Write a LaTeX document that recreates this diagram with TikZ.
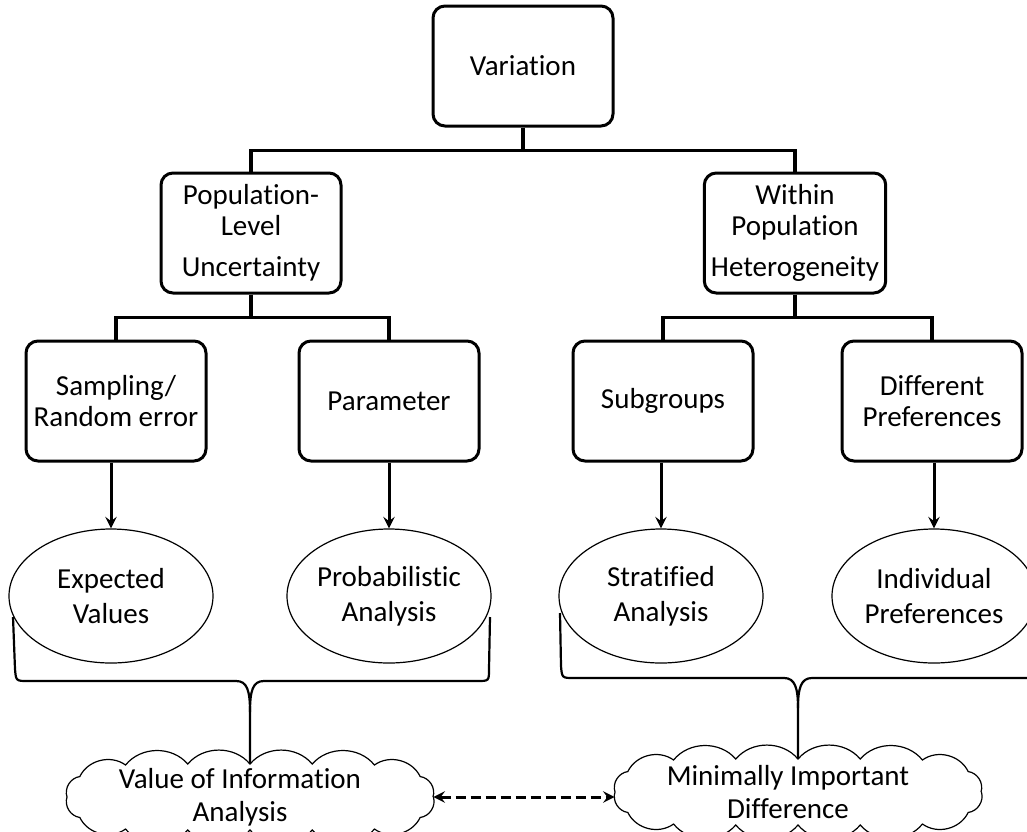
\documentclass[tikz,border=0pt]{standalone}
\usepackage{fontspec}
\setmainfont{Carlito}[Ligatures=NoCommon]
\usepackage{tikz}
\usetikzlibrary{shapes.geometric, arrows, calc}
\tikzstyle{box} = [rectangle, rounded corners=6pt, minimum width=90pt, minimum height=60pt, text centered, align=center, draw=black, line width=1.5pt, fill=white]
\tikzstyle{oval} = [ellipse, minimum width=102pt, minimum height=67pt, inner sep=0pt, text centered, align=center, draw=black, line width=0.6pt, fill=white]
\tikzstyle{blob} = [ellipse, minimum width=183pt, minimum height=33pt, inner sep=0pt]
\tikzstyle{puff} = [draw=black, line width=0.6pt]
\tikzstyle{line} = [line width=1.7pt]
\tikzstyle{brace} = [line width=1.1pt]

\begin{document}
\begin{tikzpicture}[x=0.5pt, y=-0.5pt, font=\fontsize{14.5}{15.5}\selectfont]
\useasboundingbox (0,0) rectangle (1027,831);

\node at (523,66) (var) [box] {Variation};

\node at (251,233) (pop) [box] {Population-\\Level\\[5pt]Uncertainty};
\node at (795,233) (win) [box] {Within\\Population\\[5pt]Heterogeneity};
\draw[line] (var.south) -- ++(0,23) -| (pop.north);
\draw[line] (var.south) -- ++(0,23) -| (win.north);

\node at (116,401) (samp) [box] {Sampling/\\Random error};
\node at (389,401) (par) [box] {Parameter};
\draw[line] (pop.south) -- ++(0,23) -| (samp.north);
\draw[line] (pop.south) -- ++(0,23) -| (par.north);

\node at (663,401) (sub) [box] {Subgroups};
\node at (932,401) (dif) [box] {Different\\Preferences};
\draw[line] (win.south) -- ++(0,23) -| (sub.north);
\draw[line] (win.south) -- ++(0,23) -| (dif.north);

\node at (111,596) (exp) [oval] {Expected\\[2pt]Values};
\node at (389,596) (prob) [oval] {Probabilistic\\[2pt]Analysis};
\node at (661,596) (strat) [oval] {Stratified\\[2pt]Analysis};
\node at (934,596) (ind) [oval] {Individual\\[2pt]Preferences};
\draw[->,>=stealth,line width=1.5pt] (exp.north |- samp.south) -- (exp.north);
\draw[->,>=stealth,line width=1.5pt] (prob.north |- par.south) -- (prob.north);
\draw[->,>=stealth,line width=1.5pt] (strat.north |- sub.south) -- (strat.north);
\draw[->,>=stealth,line width=1.5pt] (ind.north |- dif.south) -- (ind.north);

\node at (250,797) (voi) [blob, label={[align=center, xshift=-5pt]center:Value of Information\\[1pt]Analysis}] {};
\node at (798,792) (mid) [blob, label={[align=center, xshift=-5pt]center:Minimally Important\\[1pt]Difference}] {};
\foreach \c in {voi, mid}
  \draw[puff] (\c.east) \foreach \u/\v in {0.93/0.62, 0.68/0.97, 0.34/1, 0/1, -0.34/1, -0.68/0.97, -0.93/0.62, -1/0,
      -0.93/-0.62, -0.68/-0.97, -0.34/-1, 0/-1, 0.34/-1, 0.68/-0.97, 0.93/-0.62, 1/0}
    { to[bend left=50] ($(\c.center)+({183*\u},{33*\v})$) };
\draw[<->,>=stealth,dash pattern=on 5pt off 2.5pt,line width=1.5pt] (voi.east) -- (voi.east -| mid.west);

\draw[brace] (13,617) -- (15,669) .. controls (16,681) .. (28,681) -- (236,681) .. controls (247,681) and (250,690) .. (250,712) -- (voi.north);
\draw[brace] (490,617) -- (489,669) .. controls (489,681) .. (477,681) -- (264,681) .. controls (253,681) and (250,690) .. (250,712);

\draw[brace] (560,613) -- (561,666) .. controls (562,678) .. (574,678) -- (784,678) .. controls (795,678) and (798,688) .. (798,708) -- (mid.north);
\draw[brace] (1027,678) -- (812,678) .. controls (801,678) and (798,688) .. (798,708);

\end{tikzpicture}
\end{document}
